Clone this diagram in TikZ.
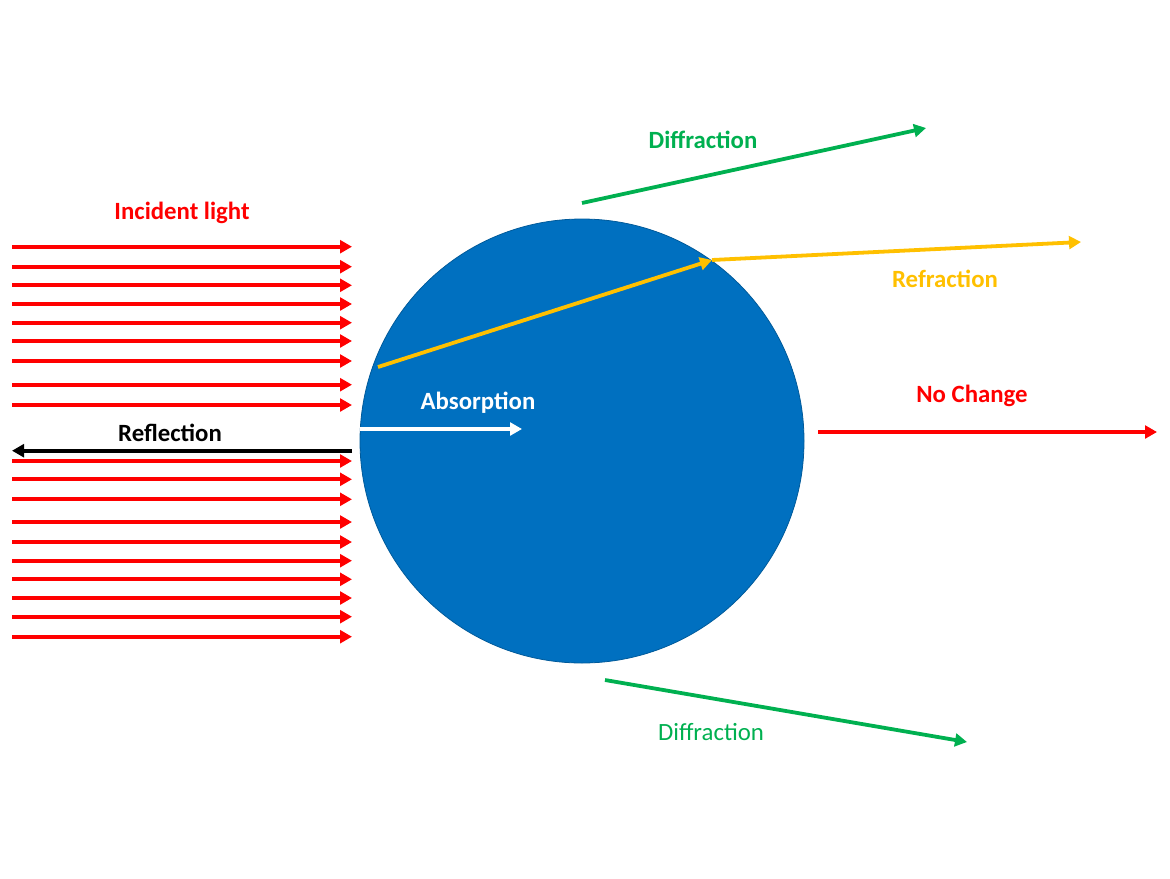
\documentclass[tikz,border=0pt]{standalone}
\usepackage{fontspec}
\setmainfont{Carlito}
\usepackage{xcolor}
\usepackage{tikz}
\usetikzlibrary{arrows.meta,positioning}
\definecolor{dropblue}{RGB}{0,112,192}
\definecolor{lightred}{RGB}{255,0,0}
\definecolor{refryellow}{RGB}{255,192,0}
\definecolor{diffgreen}{RGB}{0,176,80}

\tikzset{
  ray/.style={line width=1.9pt,-{Triangle[length=6pt,width=6.4pt]}},
  lbl/.style={font=\fontsize{12.4}{14}\selectfont\bfseries,inner sep=0pt},
}

\begin{document}
\begin{tikzpicture}[x=0.5pt,y=-0.5pt]
        \useasboundingbox (0,0) rectangle (1170,878);
        % the particle
        \node[circle,fill=dropblue,draw=dropblue!80!black,line width=0.4pt,
          minimum size=222pt,inner sep=0pt] (drop) at (582,441) {};
        % incident light
        \foreach \y [count=\i] in {246.7,266.7,285.3,304,322.7,341,361,384.7,405,
          461,479.3,499.3,522,542,560.7,579.3,598,616.7,636.7}{
          \coordinate (in\i) at (12,\y);
          \coordinate (out\i) at (352,\y);
          \draw[ray,lightred] (in\i) -- (out\i);
        }
        \node[lbl,lightred] (inclbl) at (182,213) {Incident light};
        % reflection
        \coordinate (reflA) at (352,450.7);
        \coordinate (reflB) at (12,450.7);
        \draw[ray,black] (reflA) -- (reflB);
        \node[lbl,black] (refllbl) at (170,433) {Reflection};
        % absorption
        \coordinate (absA) at (360,429);
        \coordinate (absB) at (522,429);
        \draw[ray,white] (absA) -- (absB);
        \node[lbl,white] (abslbl) at (478,403) {Absorption};
        % refraction
        \coordinate (refrA) at (378,367);
        \coordinate (refrB) at (712,260);
        \coordinate (refrC) at (1081,242);
        \draw[ray,refryellow] (refrA) -- (refrB);
        \draw[ray,refryellow] (refrB) -- (refrC);
        \node[lbl,refryellow] (refrlbl) at (945,279) {Refraction};
        % diffraction
        \coordinate (diffA) at (582,203);
        \coordinate (diffB) at (926,128);
        \draw[ray,diffgreen] (diffA) -- (diffB);
        \node[lbl,diffgreen] (difflbl) at (703,140) {Diffraction};
        \coordinate (diffC) at (605,680);
        \coordinate (diffD) at (967,742);
        \draw[ray,diffgreen] (diffC) -- (diffD);
        \node[lbl,diffgreen,font=\fontsize{12.4}{14}\selectfont] (diff2lbl) at (711,732) {Diffraction};
        % no change
        \coordinate (noA) at (818,432);
        \coordinate (noB) at (1157,432);
        \draw[ray,lightred] (noA) -- (noB);
        \node[lbl,lightred] (nolbl) at (972,396) {No Change};
      \end{tikzpicture}
\end{document}
